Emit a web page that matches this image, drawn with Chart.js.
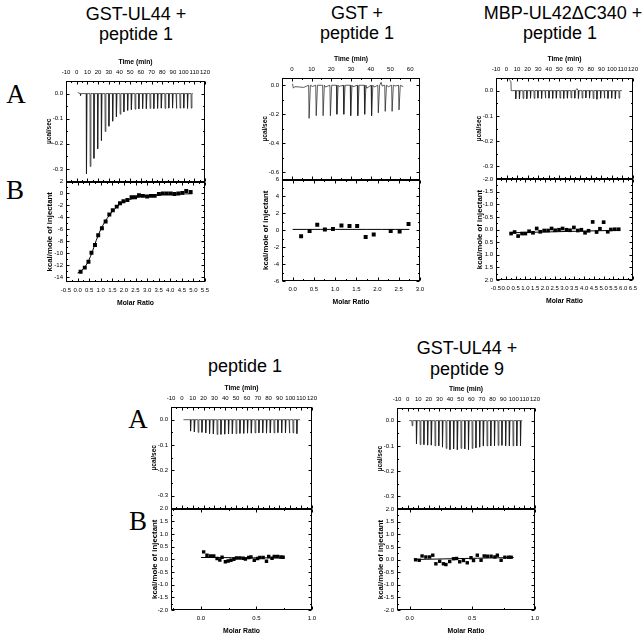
<!DOCTYPE html>
<html>
<head>
<meta charset="utf-8">
<script src="https://cdn.jsdelivr.net/npm/chart.js@4.4.1/dist/chart.umd.min.js"></script>
<style>
  body { margin: 0; background: #fff; width: 642px; height: 636px; position: relative; overflow: hidden;
         font-family: 'Liberation Sans', Arial, sans-serif; }
  canvas { position: absolute; }
  .title { position: absolute; transform: translate(-50%, -50%); white-space: nowrap; font-size: 18px; line-height: 1; color: #000; }
  .letter { position: absolute; transform: translate(-50%, -50%); font-family: 'Liberation Serif', 'Times New Roman', serif;
            font-size: 27px; line-height: 1; color: #000; }
</style>
</head>
<body>
<div class="title" style="left:136px;top:14px">GST-UL44 +</div>
<div class="title" style="left:136px;top:34px">peptide 1</div>
<div class="title" style="left:357px;top:13px">GST +</div>
<div class="title" style="left:357px;top:33px">peptide 1</div>
<div class="title" style="left:563px;top:13px">MBP-UL42ΔC340 +</div>
<div class="title" style="left:560px;top:33px">peptide 1</div>
<div class="title" style="left:245px;top:366px">peptide 1</div>
<div class="title" style="left:467px;top:348px">GST-UL44 +</div>
<div class="title" style="left:467px;top:369px">peptide 9</div>

<div class="letter" style="left:16px;top:94px">A</div>
<div class="letter" style="left:15px;top:190px">B</div>
<div class="letter" style="left:138px;top:419px">A</div>
<div class="letter" style="left:138px;top:521px">B</div>

<canvas id="c1"></canvas>
<canvas id="c2"></canvas>
<canvas id="c3"></canvas>
<canvas id="c4"></canvas>
<canvas id="c5"></canvas>

<script>
// ---- tick labels ----
const timeTicks120 = [-10, 0, 10, 20, 30, 40, 50, 60, 70, 80, 90, 100, 110, 120];
const timeTicks60 = [0, 10, 20, 30, 40, 50, 60];
const powerTicksSmall = [0.0, -0.1, -0.2, -0.3];
const powerTicksLarge = [0.0, -0.2, -0.4, -0.6];
const heatTicksP1 = [2, 0, -2, -4, -6, -8, -10, -12, -14];
const heatTicksP2 = [6, 4, 2, 0, -2, -4, -6];
const heatTicksSmall = [2.0, 1.5, 1.0, 0.5, 0.0, -0.5, -1.0, -1.5, -2.0];
const ratioTicksP1 = [-0.5, 0.0, 0.5, 1.0, 1.5, 2.0, 2.5, 3.0, 3.5, 4.0, 4.5, 5.0, 5.5];
const ratioTicksP2 = [0.0, 0.5, 1.0, 1.5, 2.0, 2.5, 3.0];
const ratioTicksP3 = [-0.5, 0.0, 0.5, 1.0, 1.5, 2.0, 2.5, 3.0, 3.5, 4.0, 4.5, 5.0, 5.5, 6.0, 6.5];
const ratioTicksP45 = [0.0, 0.5, 1.0];

// ---- panel 1: GST-UL44 + peptide 1 ----
const p1InjTime = [8.9, 12.4, 15.9, 19.4, 22.9, 26.4, 29.9, 33.4, 36.9, 40.4, 43.9, 47.4, 50.9, 54.4, 57.9,
                   61.4, 64.9, 68.4, 71.9, 75.4, 78.9, 82.4, 85.9, 89.4, 92.9, 96.4, 99.9, 103.4, 106.9];
const p1InjPeak = [-0.320, -0.290, -0.258, -0.220, -0.187, -0.151, -0.130, -0.110, -0.092, -0.082, -0.073,
                   -0.067, -0.064, -0.062, -0.061, -0.060, -0.060, -0.059, -0.060, -0.059, -0.058, -0.059,
                   -0.058, -0.058, -0.059, -0.058, -0.058, -0.059, -0.058];
const p1Baseline = [[1.0, 0.004], [3.3, 0.0], [3.6, -0.008], [4.2, 0.0], [108.5, 0.0]];
const p1Ratio = [0.13, 0.31, 0.47, 0.60, 0.75, 0.89, 1.05, 1.21, 1.37, 1.52, 1.69, 1.83, 1.98, 2.15, 2.33,
                 2.48, 2.65, 2.82, 3.00, 3.17, 3.33, 3.51, 3.68, 3.85, 4.02, 4.18, 4.35, 4.52, 4.69, 4.88];
const p1Heat = [-13.1, -12.4, -11.4, -9.9, -8.6, -7.0, -5.8, -4.7, -3.5, -2.8, -2.2, -1.65, -1.3, -1.1, -0.65,
                -0.65, -0.3, -0.4, -0.5, -0.4, -0.4, -0.1, 0.0, 0.0, 0.0, -0.1, 0.0, 0.1, 0.4, 0.25];
const p1FitRatio = [0.0, 0.2, 0.4, 0.6, 0.8, 1.0, 1.2, 1.4, 1.6, 1.8, 2.0, 2.3, 2.6, 3.0, 3.5, 4.0, 4.5, 4.95];
const p1FitHeat = [-13.3, -12.8, -11.8, -10.1, -7.9, -6.0, -4.6, -3.5, -2.6, -1.9, -1.4, -0.95, -0.65, -0.4,
                   -0.22, -0.13, -0.08, -0.05];

// ---- panel 2: GST + peptide 1 ----
const p2InjTime = [8.5, 12.1, 15.6, 19.3, 22.6, 26.1, 29.6, 33.2, 36.7, 40.2, 43.6, 47.1, 50.6, 54.1];
const p2InjPeak = [-0.228, -0.21, -0.21, -0.21, -0.20, -0.20, -0.21, -0.21, -0.20, -0.21, -0.19, -0.18, -0.18, -0.17];
const p2Baseline = [[0.3, 0.01], [0.8, -0.02], [1.5, -0.01], [4.0, -0.012], [6.0, -0.015], [10.5, -0.008],
                    [17.0, -0.012], [24.0, -0.008], [31.0, -0.01], [38.0, -0.02], [41.8, -0.012], [45.3, 0.02],
                    [45.8, -0.005], [49.0, -0.01], [52.5, -0.005], [56.5, -0.01]];
const p2Ratio = [0.20, 0.40, 0.58, 0.76, 0.95, 1.15, 1.34, 1.52, 1.72, 1.91, 2.31, 2.52, 2.73];
const p2Heat = [-0.7, -0.1, 0.65, 0.1, 0.15, 0.55, 0.5, 0.5, -0.8, -0.5, -0.1, -0.15, 0.75];
const p2FitRatio = [0.0, 2.75];
const p2FitHeat = [0.1, 0.1];

// ---- panel 3: MBP-UL42ΔC340 + peptide 1 ----
const p3InjTime = [8.5, 12.0, 15.5, 19.0, 22.5, 26.0, 29.5, 33.0, 36.5, 40.0, 43.5, 47.0, 50.5, 54.0, 57.5,
                   61.0, 64.5, 68.0, 71.5, 75.0, 78.5, 82.0, 85.5, 89.0, 92.5, 96.0, 99.5, 103.0, 106.5];
const p3InjPeak = [-0.033, -0.032, -0.031, -0.032, -0.030, -0.031, -0.030, -0.031, -0.030, -0.030, -0.031,
                   -0.030, -0.030, -0.031, -0.030, -0.029, -0.030, -0.031, -0.030, -0.029, -0.030, -0.031,
                   -0.034, -0.030, -0.030, -0.031, -0.030, -0.032, -0.030];
const p3Baseline = [[1.0, 0.052], [3.0, 0.042], [4.2, 0.035], [4.4, 0.0], [66.8, 0.008], [109.5, 0.0]];
const p3Ratio = [0.27, 0.45, 0.63, 0.83, 1.00, 1.19, 1.39, 1.58, 1.76, 1.96, 2.16, 2.34, 2.52, 2.72, 2.90,
                 3.10, 3.28, 3.48, 3.68, 3.86, 4.05, 4.23, 4.44, 4.64, 4.81, 5.00, 5.21, 5.37, 5.57, 5.77];
const p3Heat = [0.16, 0.1, 0.26, 0.16, 0.16, 0.07, 0.13, -0.04, 0.09, 0.04, 0.04, -0.04, 0.03, 0.01, -0.04,
                0.01, 0.03, -0.08, 0.04, 0.01, 0.13, 0.05, -0.3, 0.1, -0.03, -0.29, 0.09, 0.0, -0.01, -0.01];
const p3FitRatio = [0.25, 5.8];
const p3FitHeat = [0.13, 0.03];

// ---- panel 4: peptide 1 ----
const p4InjTime = [7.8, 11.3, 14.8, 18.3, 21.8, 25.3, 28.8, 32.3, 35.8, 39.3, 42.8, 46.3, 49.8, 53.3, 56.8,
                   60.3, 63.8, 67.3, 70.8, 74.3, 77.8, 81.3, 84.8, 88.3, 91.8, 95.3, 98.8, 102.3, 105.8];
const p4InjPeak = [-0.045, -0.048, -0.050, -0.050, -0.052, -0.055, -0.056, -0.058, -0.058, -0.057, -0.056,
                   -0.055, -0.055, -0.054, -0.054, -0.053, -0.053, -0.052, -0.052, -0.052, -0.053, -0.052,
                   -0.052, -0.051, -0.052, -0.052, -0.053, -0.052, -0.055];
const p4Baseline = [[1.5, 0.0], [109.0, 0.0]];
const p4Ratio = [0.024, 0.054, 0.085, 0.115, 0.145, 0.17, 0.19, 0.22, 0.245, 0.27, 0.296, 0.32, 0.35, 0.38,
                 0.40, 0.43, 0.45, 0.48, 0.51, 0.53, 0.56, 0.59, 0.61, 0.64, 0.66, 0.69, 0.72, 0.74];
const p4Heat = [0.29, 0.16, 0.13, 0.13, 0.03, -0.03, 0.08, -0.1, -0.07, -0.04, 0.0, 0.05, 0.05, 0.04,
                0.01, 0.07, 0.09, -0.04, 0.03, 0.07, 0.07, -0.08, 0.11, 0.04, 0.11, 0.11, 0.09, 0.08];
const p4FitRatio = [0.0, 0.75];
const p4FitHeat = [0.07, 0.05];

// ---- panel 5: GST-UL44 + peptide 9 ----
const p5InjTime = [8.1, 11.6, 15.1, 18.6, 22.1, 25.6, 29.1, 32.6, 36.1, 39.6, 43.1, 46.6, 50.1, 53.6, 57.1,
                   60.6, 64.1, 67.6, 71.1, 74.6, 78.1, 81.6, 85.1, 88.6, 92.1, 95.6, 99.1, 102.6, 106.1];
const p5InjPeak = [-0.092, -0.095, -0.095, -0.097, -0.097, -0.100, -0.100, -0.105, -0.110, -0.115, -0.112,
                   -0.115, -0.110, -0.112, -0.115, -0.110, -0.108, -0.105, -0.100, -0.100, -0.100, -0.100,
                   -0.098, -0.098, -0.100, -0.100, -0.100, -0.100, -0.100];
const p5Baseline = [[1.5, 0.0], [4.0, 0.0], [4.3, -0.02], [4.9, 0.0], [108.0, 0.0]];
const p5Ratio = [0.048, 0.077, 0.10, 0.13, 0.16, 0.185, 0.21, 0.24, 0.27, 0.29, 0.32, 0.35, 0.375, 0.40, 0.43,
                 0.46, 0.49, 0.51, 0.54, 0.57, 0.595, 0.62, 0.65, 0.68, 0.70, 0.73, 0.76, 0.79, 0.81];
const p5Heat = [-0.01, -0.03, 0.14, 0.1, 0.1, 0.17, -0.17, -0.07, -0.17, -0.2, -0.08, 0.03, 0.04, -0.09, -0.04,
                -0.13, 0.07, -0.04, 0.17, -0.03, 0.14, 0.13, 0.13, 0.1, 0.17, -0.03, 0.09, 0.09, 0.09];
const p5FitRatio = [0.04, 0.83];
const p5FitHeat = [0.0, 0.08];

const FONT = "'Liberation Sans', Arial, sans-serif";
const Y_W = 25, TOP_H = 27, BOT_H = 29, RIGHT_PAD = 8;

// raw thermogram: each injection is a narrow downward spike from the baseline
function thermogram(times, peaks, baseline) {
    const pts = baseline.map(([x, y]) => ({ x, y }));
    times.forEach((t, i) => {
        pts.push({ x: t, y: 0 }, { x: t + 0.25, y: peaks[i] }, { x: t + 0.9, y: 0 });
    });
    return pts.sort((a, b) => a.x - b.x);
}

function pairs(xs, ys) {
    return xs.map((x, i) => ({ x, y: ys[i] }));
}

// box outline + inward tick marks, like the original Origin plots
const framePlugin = {
    id: 'frame',
    afterDatasetsDraw(chart) {
        const { ctx, chartArea: { left, right }, scales } = chart;
        ctx.save();
        ctx.strokeStyle = '#000';
        ctx.lineWidth = 1;
        const minorOf = (vals, s) => {
            const step = Math.abs(vals[1] - vals[0]);
            const out = [];
            vals.forEach(v => [v - step / 2, v + step / 2].forEach(m => {
                if (m > Math.min(s.min, s.max) && m < Math.max(s.min, s.max) && !out.some(o => Math.abs(o - m) < 1e-9)) out.push(m);
            }));
            return out;
        };
        [[scales.yT, scales.xT], [scales.yB, scales.xM]].forEach(([ys, xs]) => {
            const top = Math.round(ys.top) + 0.5, bot = Math.round(ys.bottom) - 0.5;
            const l = Math.round(left) + 0.5, r = Math.round(right) - 0.5;
            ctx.strokeRect(l, top, r - l, bot - top);
            const yv = ys.ticks.map(t => t.value);
            const xv = xs.ticks.map(t => t.value);
            ctx.beginPath();
            const yt = (vals, len) => vals.forEach(v => {
                const p = Math.round(ys.getPixelForValue(v)) + 0.5;
                ctx.moveTo(l, p); ctx.lineTo(l + len, p);
                ctx.moveTo(r, p); ctx.lineTo(r - len, p);
            });
            const xt = (vals, len) => vals.forEach(v => {
                const p = Math.round(xs.getPixelForValue(v)) + 0.5;
                ctx.moveTo(p, top); ctx.lineTo(p, top + len);
                ctx.moveTo(p, bot); ctx.lineTo(p, bot - len);
            });
            yt(yv, 3); yt(minorOf(yv, ys), 1.5);
            xt(xv, 3); xt(minorOf(xv, xs), 1.5);
            ctx.stroke();
        });
        ctx.restore();
    }
};

function xScale(position, title, min, max, ticks, dec) {
    return {
        type: 'linear', position, min, max,
        grid: { display: false, drawTicks: false }, border: { display: false },
        title: { display: true, text: title, color: '#000', font: { family: FONT, size: 6.8, weight: 'bold' }, padding: { top: 4, bottom: 4 } },
        ticks: { color: '#000', font: { family: FONT, size: 6 }, padding: 5, autoSkip: false, maxRotation: 0,
                 callback: v => v.toFixed(dec) },
        afterBuildTicks: s => { s.ticks = ticks.map(v => ({ value: v })); },
        afterFit: s => { s.height = position === 'top' ? TOP_H : BOT_H; s.paddingLeft = 0; s.paddingRight = 0; }
    };
}

function yScale(title, titleSize, min, max, ticks, dec, reverse) {
    return {
        type: 'linear', position: 'left', stack: 'itc', stackWeight: 1, min, max, reverse: !!reverse,
        grid: { display: false, drawTicks: false }, border: { display: false },
        title: { display: true, text: title, color: '#000', font: { family: FONT, size: titleSize, weight: 'bold' }, padding: { top: 4, bottom: 4 } },
        ticks: { color: '#000', font: { family: FONT, size: 6 }, padding: 3, autoSkip: false,
                 callback: v => v.toFixed(dec) },
        afterBuildTicks: s => { s.ticks = ticks.map(v => ({ value: v })); },
        afterFit: s => { s.width = Y_W; s.paddingTop = 0; s.paddingBottom = 0; }
    };
}

function makePanel(id, box, raw, points, fit, axes, pointRadius) {
    const [L, T, R, B] = box;
    const canvas = document.getElementById(id);
    canvas.width = (R - L) + Y_W + RIGHT_PAD;
    canvas.height = (B - T) + TOP_H + BOT_H;
    canvas.style.left = (L - Y_W) + 'px';
    canvas.style.top = (T - TOP_H) + 'px';
    new Chart(canvas, {
        type: 'line',
        data: {
            datasets: [
                { data: raw, xAxisID: 'xT', yAxisID: 'yT', borderColor: '#1a1a1a', borderWidth: 0.7,
                  pointRadius: 0, tension: 0 },
                { data: fit, xAxisID: 'xM', yAxisID: 'yB', borderColor: '#000', borderWidth: 1,
                  pointRadius: 0, tension: 0.3 },
                { data: points, xAxisID: 'xM', yAxisID: 'yB', showLine: false, pointStyle: 'rect',
                  pointRadius, backgroundColor: '#000', borderColor: '#000', borderWidth: 0 }
            ]
        },
        options: {
            responsive: false, animation: false, devicePixelRatio: 1,
            layout: { padding: { left: 0, top: 0, bottom: 0, right: RIGHT_PAD } },
            plugins: { legend: { display: false }, tooltip: { enabled: false } },
            scales: {
                // stacked left axes: the one listed later lands on top
                xT: xScale('top', 'Time (min)', ...axes.time),
                yB: yScale('kcal/mole of injectant', 7.8, ...axes.heat),
                yT: yScale('µcal/sec', 6.5, ...axes.power),
                xM: xScale('bottom', 'Molar Ratio', ...axes.ratio)
            }
        },
        plugins: [framePlugin]
    });
}

makePanel('c1', [66, 81, 205, 282],
    thermogram(p1InjTime, p1InjPeak, p1Baseline), pairs(p1Ratio, p1Heat), pairs(p1FitRatio, p1FitHeat),
    { time: [-10, 120, timeTicks120, 0], power: [-0.35, 0.05, powerTicksSmall, 1],
      heat: [-14.8, 2, heatTicksP1, 0], ratio: [-0.5, 5.5, ratioTicksP1, 1] }, 2.8);

makePanel('c2', [282, 78, 420, 281],
    thermogram(p2InjTime, p2InjPeak, p2Baseline), pairs(p2Ratio, p2Heat), pairs(p2FitRatio, p2FitHeat),
    { time: [-5, 65, timeTicks60, 0], power: [-0.65, 0.05, powerTicksLarge, 1],
      heat: [-6, 6, heatTicksP2, 0], ratio: [-0.25, 3.0, ratioTicksP2, 1] }, 2.8);

makePanel('c3', [496, 78, 633, 280],
    thermogram(p3InjTime, p3InjPeak, p3Baseline), pairs(p3Ratio, p3Heat), pairs(p3FitRatio, p3FitHeat),
    { time: [-10, 120, timeTicks120, 0], power: [-0.35, 0.05, powerTicksSmall, 1],
      heat: [-2, 2, heatTicksSmall, 1, true], ratio: [-0.5, 6.5, ratioTicksP3, 1] }, 2.6);

makePanel('c4', [171, 407, 312, 610],
    thermogram(p4InjTime, p4InjPeak, p4Baseline), pairs(p4Ratio, p4Heat), pairs(p4FitRatio, p4FitHeat),
    { time: [-10, 120, timeTicks120, 0], power: [-0.35, 0.05, powerTicksSmall, 1],
      heat: [-2, 2, heatTicksSmall, 1], ratio: [-0.27, 1.0, ratioTicksP45, 1] }, 2.4);

makePanel('c5', [397, 408, 535, 610],
    thermogram(p5InjTime, p5InjPeak, p5Baseline), pairs(p5Ratio, p5Heat), pairs(p5FitRatio, p5FitHeat),
    { time: [-10, 120, timeTicks120, 0], power: [-0.35, 0.05, powerTicksSmall, 1],
      heat: [-2, 2, heatTicksSmall, 1], ratio: [-0.1, 1.0, ratioTicksP45, 1] }, 2.4);
</script>
</body>
</html>
